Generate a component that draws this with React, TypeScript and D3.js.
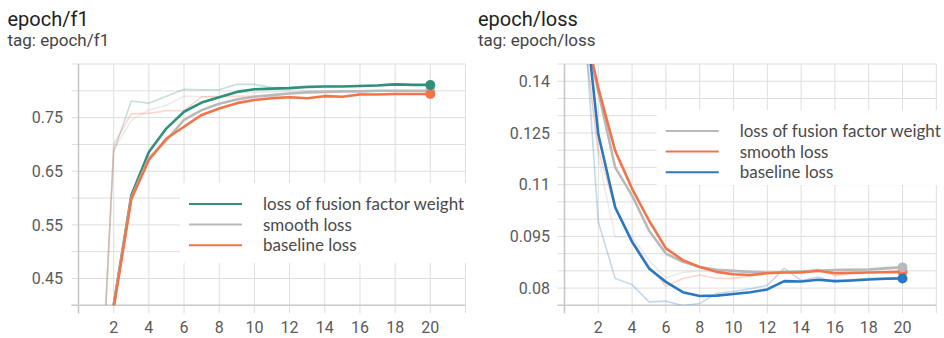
import * as d3 from 'd3'

// epochs 1..20
const epochs = [1, 2, 3, 4, 5, 6, 7, 8, 9, 10, 11, 12, 13, 14, 15, 16, 17, 18, 19, 20]

// epoch/f1
const f1Fusion = [0.04, 0.40, 0.605, 0.686, 0.730, 0.761, 0.778, 0.788, 0.798, 0.803, 0.804, 0.805, 0.807, 0.808, 0.808, 0.809, 0.810, 0.812, 0.811, 0.811]
const f1FusionRaw = [0.04, 0.686, 0.781, 0.777, 0.790, 0.803, 0.802, 0.802, 0.812, 0.812, 0.806, 0.806, 0.809, 0.809, 0.809, 0.810, 0.811, 0.813, 0.811, 0.811]
const f1Smooth = [0.04, 0.40, 0.600, 0.674, 0.708, 0.746, 0.764, 0.776, 0.784, 0.789, 0.792, 0.795, 0.797, 0.798, 0.799, 0.799, 0.800, 0.800, 0.800, 0.800]
const f1SmoothRaw = [0.04, 0.69, 0.745, 0.764, 0.773, 0.790, 0.789, 0.790, 0.797, 0.797, 0.798, 0.799, 0.800, 0.800, 0.800, 0.800, 0.801, 0.801, 0.800, 0.800]
const f1Base = [0.04, 0.395, 0.598, 0.671, 0.711, 0.733, 0.755, 0.767, 0.777, 0.783, 0.786, 0.788, 0.786, 0.790, 0.789, 0.793, 0.793, 0.794, 0.794, 0.794]
const f1BaseRaw = [0.03, 0.70, 0.757, 0.758, 0.763, 0.763, 0.789, 0.789, 0.790, 0.790, 0.789, 0.789, 0.786, 0.792, 0.789, 0.795, 0.794, 0.795, 0.794, 0.794]

// epoch/loss
const lossFusion = [0.16, 0.137, 0.115, 0.1068, 0.0967, 0.0900, 0.0876, 0.0861, 0.0853, 0.0850, 0.0847, 0.0845, 0.0846, 0.0848, 0.0850, 0.0852, 0.0853, 0.0854, 0.0857, 0.0860]
const lossFusionRaw = [0.16, 0.118, 0.0948, 0.0950, 0.0880, 0.0830, 0.0845, 0.0850, 0.0845, 0.0848, 0.0845, 0.0843, 0.0848, 0.0850, 0.0852, 0.0853, 0.0855, 0.0855, 0.0860, 0.0862]
const lossSmooth = [0.16, 0.138, 0.1198, 0.1088, 0.0996, 0.0915, 0.0881, 0.0861, 0.0847, 0.0840, 0.0838, 0.0843, 0.0845, 0.0845, 0.0850, 0.0843, 0.0844, 0.0845, 0.0846, 0.0847]
const lossSmoothRaw = [0.16, 0.120, 0.103, 0.094, 0.0865, 0.0805, 0.0828, 0.0838, 0.0828, 0.0828, 0.0835, 0.0845, 0.0845, 0.0846, 0.0855, 0.0835, 0.0845, 0.0846, 0.0847, 0.0848]
const lossBase = [0.17, 0.1246, 0.1034, 0.0934, 0.0857, 0.0818, 0.0788, 0.0777, 0.0778, 0.0783, 0.0788, 0.0796, 0.0820, 0.0819, 0.0824, 0.0820, 0.0822, 0.0825, 0.0827, 0.0828]
const lossBaseRaw = [0.17, 0.0992, 0.0828, 0.0810, 0.0760, 0.0762, 0.0749, 0.0755, 0.0785, 0.0790, 0.0798, 0.0808, 0.0857, 0.0822, 0.0832, 0.0818, 0.0825, 0.0828, 0.0830, 0.0830]

const xTicks = [2, 4, 6, 8, 10, 12, 14, 16, 18, 20]
const f1Labels = [0.45, 0.55, 0.65, 0.75]
const lossLabels = [0.08, 0.095, 0.11, 0.125, 0.14]

const TEAL = '#2f917b'
const ORANGE = '#f2744a'
const GRAY = '#b9b9b9'
const BLUE = '#2b78c2'

interface Series {
  name: string
  color: string
  smooth: number[]
  raw: number[]
}

interface PanelProps {
  title: string
  tag: string
  titleX: number
  xRange: [number, number]
  yDomain: [number, number]
  gridStep: number
  labels: number[]
  fmt: (v: number) => string
  labelX: number
  series: Series[]
  dotOrder: number[]
  legend: { x: number; y: number; w: number; h: number }
  id: string
}

const TOP = 64
const BOTTOM = 305.3

function Panel(p: PanelProps) {
  const x = d3.scaleLinear().domain([0, 22]).range(p.xRange)
  const y = d3.scaleLinear().domain(p.yDomain).range([BOTTOM, TOP])
  const n = Math.round((p.yDomain[1] - p.yDomain[0]) / p.gridStep)
  const hGrid = d3.range(n + 1).map(i => p.yDomain[0] + i * p.gridStep)
  const vGrid = d3.range(0, 23, 2)
  const line = d3.line<number>()
    .x((_, i) => x(epochs[i]))
    .y(d => y(d))
  const [x0, x1] = p.xRange
  const lg = p.legend

  return (
    <g>
      <text x={p.titleX} y={26} fontFamily="Roboto" fontSize={20} fill="#222">{p.title}</text>
      <text x={p.titleX} y={46} fontFamily="Roboto" fontSize={17} fill="#444">{p.tag}</text>
      <defs>
        <clipPath id={p.id}>
          <rect x={x0} y={TOP} width={x1 - x0} height={BOTTOM - TOP} />
        </clipPath>
      </defs>
      {hGrid.map((v, i) => (
        <line key={'h' + i} x1={x0 - 7} x2={x1} y1={y(v)} y2={y(v)} stroke="#dedede" strokeWidth={1} />
      ))}
      {vGrid.map(v => (
        <line key={'v' + v} x1={x(v)} x2={x(v)} y1={TOP} y2={BOTTOM + 8}
          stroke={v === 0 ? '#c4c4c4' : '#dedede'} strokeWidth={v === 0 ? 1.5 : 1} />
      ))}
      <line x1={x0 - 7} x2={x1} y1={BOTTOM} y2={BOTTOM} stroke="#cccccc" strokeWidth={1.5} />
      {p.labels.map(v => (
        <text key={'yl' + v} x={p.labelX} y={y(v)} dy="0.36em" textAnchor="end"
          fontFamily="Roboto" fontSize={16} fill="#5a5a5a">{p.fmt(v)}</text>
      ))}
      {xTicks.map(v => (
        <text key={'xl' + v} x={x(v)} y={333} textAnchor="middle"
          fontFamily="Roboto" fontSize={16} fill="#5a5a5a">{v}</text>
      ))}
      <g clipPath={`url(#${p.id})`}>
        {p.series.map(s => (
          <path key={'r' + s.name} d={line(s.raw) ?? ''} fill="none" stroke={s.color}
            strokeOpacity={0.28} strokeWidth={1.6} />
        ))}
        {p.series.map(s => (
          <path key={'s' + s.name} d={line(s.smooth) ?? ''} fill="none" stroke={s.color}
            strokeWidth={2.6} strokeLinejoin="round" />
        ))}
      </g>
      {p.dotOrder.map(i => {
        const s = p.series[i]
        return <circle key={'d' + s.name} cx={x(20)} cy={y(s.smooth[19])} r={5} fill={s.color} />
      })}
      <rect x={lg.x} y={lg.y} width={lg.w} height={lg.h} fill="#fff" />
      {p.series.map((s, k) => {
        const ly = lg.y + 21 + k * 20.6
        return (
          <g key={'lg' + s.name}>
            <line x1={lg.x + 9} x2={lg.x + 62} y1={ly} y2={ly} stroke={s.color} strokeWidth={2} />
            <text x={lg.x + 83} y={ly} dy="0.35em" fontFamily="Lato" fontSize={17} fill="#4a4a4a">{s.name}</text>
          </g>
        )
      })}
    </g>
  )
}

export default function App() {
  const f1Series: Series[] = [
    { name: 'loss of fusion factor weight', color: TEAL, smooth: f1Fusion, raw: f1FusionRaw },
    { name: 'smooth loss', color: GRAY, smooth: f1Smooth, raw: f1SmoothRaw },
    { name: 'baseline loss', color: ORANGE, smooth: f1Base, raw: f1BaseRaw },
  ]
  const lossSeries: Series[] = [
    { name: 'loss of fusion factor weight', color: GRAY, smooth: lossFusion, raw: lossFusionRaw },
    { name: 'smooth loss', color: ORANGE, smooth: lossSmooth, raw: lossSmoothRaw },
    { name: 'baseline loss', color: BLUE, smooth: lossBase, raw: lossBaseRaw },
  ]
  return (
    <svg width={944} height={338} style={{ position: 'fixed', left: 0, top: 0, background: '#fff' }}>
      <Panel id="c1" title="epoch/f1" tag="tag: epoch/f1" titleX={7.5} xRange={[78.5, 465.5]} yDomain={[0.40, 0.85]}
        gridStep={0.05} labels={f1Labels} fmt={d3.format('.2f')} labelX={63}
        series={f1Series} dotOrder={[1, 2, 0]}
        legend={{ x: 180, y: 183, w: 286, h: 80 }} />
      <Panel id="c2" title="epoch/loss" tag="tag: epoch/loss" titleX={478} xRange={[564.5, 936.3]} yDomain={[0.075, 0.145]}
        gridStep={0.005} labels={lossLabels} fmt={v => String(+v.toFixed(3))} labelX={550}
        series={lossSeries} dotOrder={[1, 0, 2]}
        legend={{ x: 656.7, y: 110, w: 288, h: 75 }} />
    </svg>
  )
}
